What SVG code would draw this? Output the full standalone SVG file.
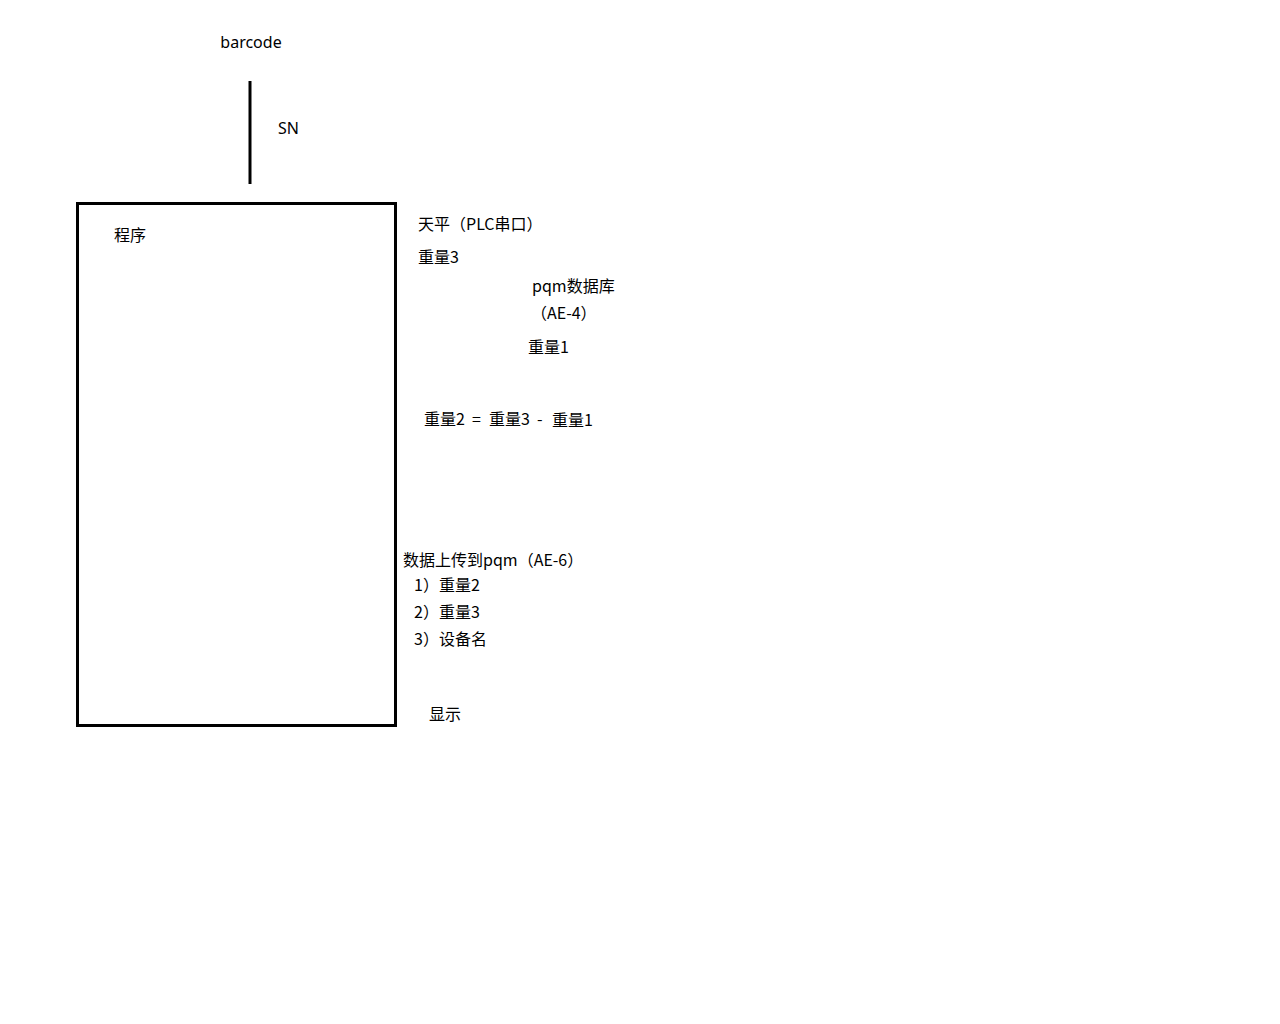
<svg xmlns="http://www.w3.org/2000/svg" width="1280" height="1024" viewBox="0 0 1280 1024">
<style>
text { font-family: "Microsoft YaHei", "Noto Sans", "Noto Sans CJK SC", sans-serif; font-size: 16px; fill: #000; }
.cjk { font-family: "Noto Sans CJK SC", sans-serif; }
.shape { fill: none; stroke: #000; stroke-width: 3; }
</style>
<rect x="0" y="0" width="1280" height="1024" fill="#fff"/>
<g id="barcode"><text x="251" y="48" text-anchor="middle">barcode</text></g>
<g id="connectors">
<line class="shape" x1="250" y1="81" x2="250" y2="184"/>
<text x="278" y="134">SN</text>
</g>
<g id="program">
<rect class="shape" x="77.5" y="203.5" width="318" height="522"/>
<text class="cjk" x="114" y="241">程序</text>
</g>
<g id="notes">
<text class="cjk" x="418" y="230">天平（PLC串口）</text>
<text class="cjk" x="418" y="263">重量3</text>
<text class="cjk" x="532" y="292">pqm数据库</text>
<text class="cjk" x="531" y="319">（AE-4）</text>
<text class="cjk" x="528" y="353">重量1</text>
<text class="cjk" x="424" y="425">重量2</text>
<text class="cjk" x="472" y="425">=</text>
<text class="cjk" x="489" y="425">重量3</text>
<text class="cjk" x="537" y="425">-</text>
<text class="cjk" x="552" y="426">重量1</text>
<text class="cjk" x="403" y="566">数据上传到pqm（AE-6）</text>
<text class="cjk" x="414" y="591">1）重量2</text>
<text class="cjk" x="414" y="618">2）重量3</text>
<text class="cjk" x="414" y="645">3）设备名</text>
<text class="cjk" x="429" y="720">显示</text>
</g>
</svg>
